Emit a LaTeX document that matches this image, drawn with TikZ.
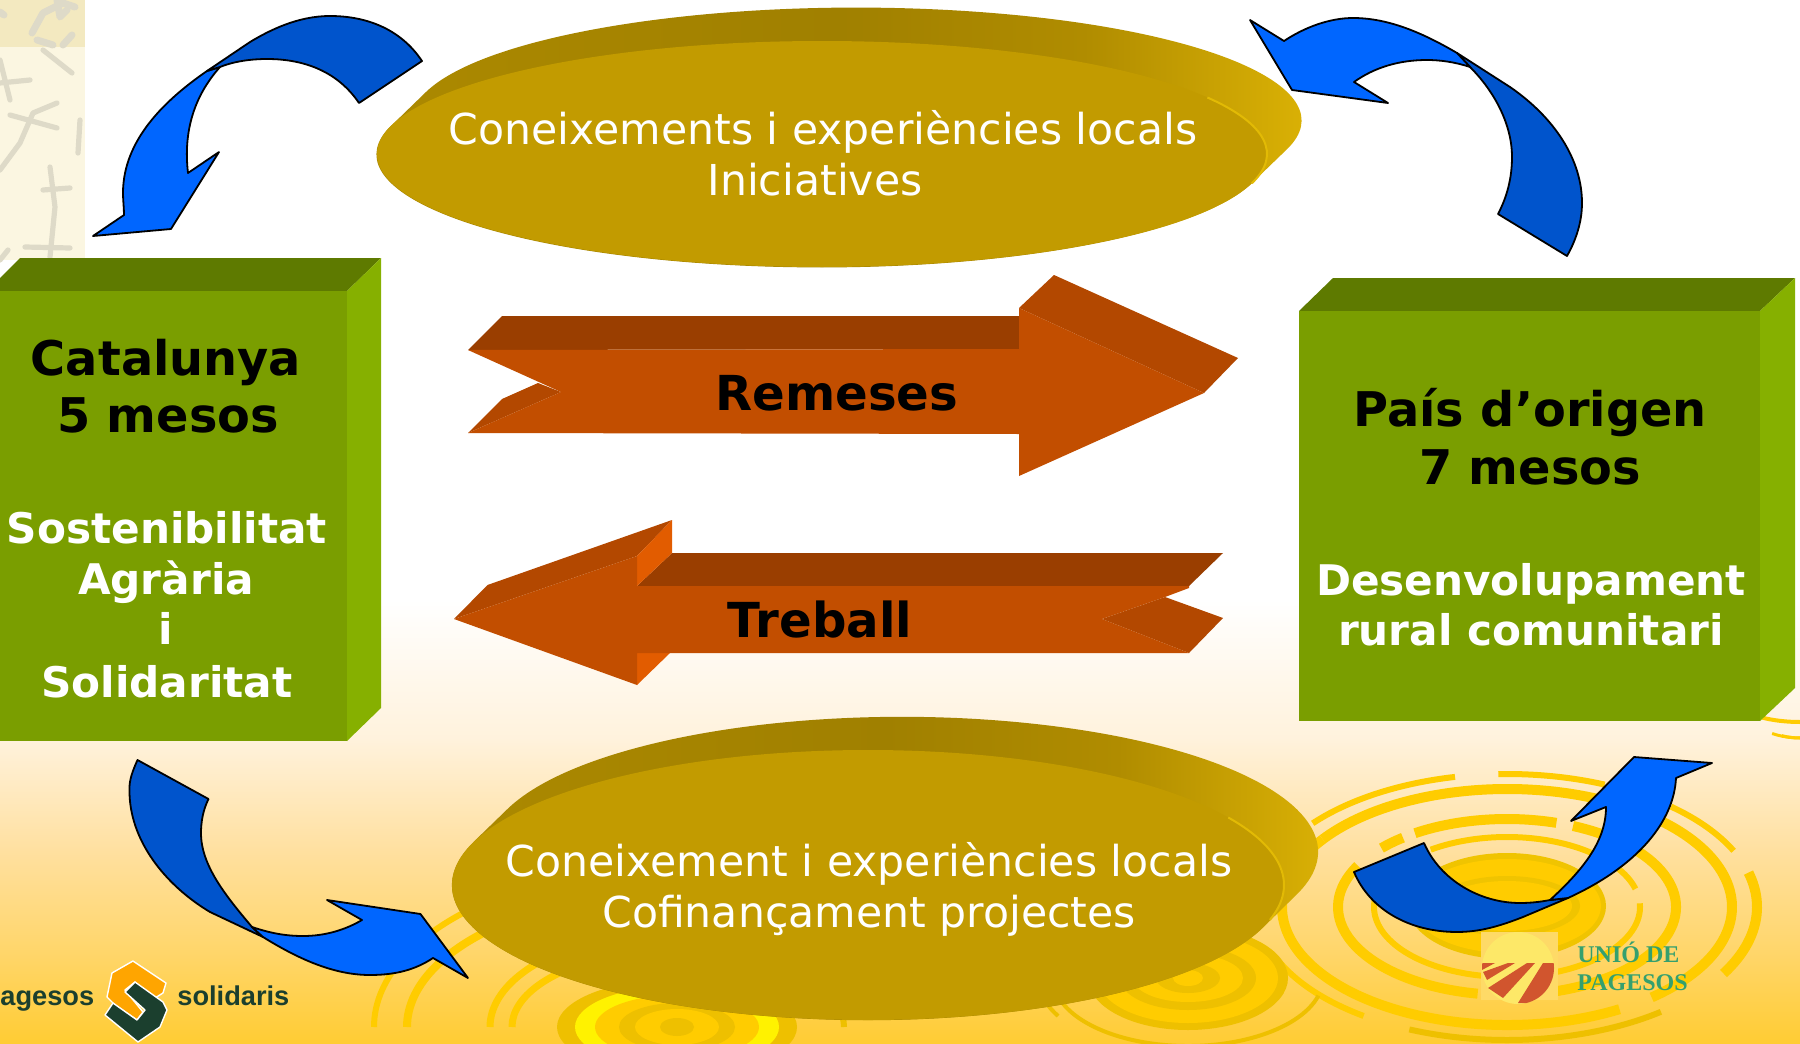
\documentclass[tikz,border=0pt]{standalone}
\usepackage{fontspec}
\setmainfont{DejaVu Sans}
\newfontfamily\unifont{Liberation Serif}
\newfontfamily\logofont{Liberation Sans}
\definecolor{ringc}{RGB}{255,204,0}
\definecolor{ringd}{RGB}{238,192,0}
\definecolor{bandc}{RGB}{240,196,0}
\definecolor{goldf}{RGB}{194,155,0}
\definecolor{goldedge}{RGB}{226,186,5}
\definecolor{goldA}{RGB}{173,138,0}
\definecolor{goldB}{RGB}{160,128,0}
\definecolor{goldC}{RGB}{176,140,0}
\definecolor{goldD}{RGB}{226,184,6}
\definecolor{grnf}{RGB}{122,158,0}
\definecolor{grnt}{RGB}{94,122,0}
\definecolor{grns}{RGB}{134,176,0}
\definecolor{orf}{RGB}{194,78,0}
\definecolor{ort}{RGB}{154,62,0}
\definecolor{ors}{RGB}{179,72,0}
\definecolor{orl}{RGB}{226,92,0}
\definecolor{bluel}{RGB}{0,102,255}
\definecolor{blued}{RGB}{0,84,204}
\definecolor{logodk}{RGB}{27,63,46}
\definecolor{logoor}{RGB}{255,165,0}
\definecolor{unig}{RGB}{53,160,110}
\definecolor{unir}{RGB}{209,85,46}
\definecolor{uniy}{RGB}{253,232,104}
\definecolor{stripA}{RGB}{243,233,192}
\definecolor{stripB}{RGB}{251,246,225}
\definecolor{stripG}{RGB}{222,218,200}
\definecolor{bgA}{RGB}{255,242,220}
\definecolor{bgB}{RGB}{255,224,160}
\definecolor{bgC}{RGB}{255,213,102}
\definecolor{bgD}{RGB}{255,204,51}
\pgfdeclarehorizontalshading{extoshade}{100bp}{color(0bp)=(goldA); color(25bp)=(goldA); color(50bp)=(goldB); color(62bp)=(goldC); color(75bp)=(goldD); color(100bp)=(goldD)}
\newcommand{\rarc}[8][ringc]{\draw[#1,line width=#8*0.5pt] (#2,#3) ++(#6:#4 and #5) arc[start angle=#6,end angle=#7,x radius=#4,y radius=#5];}
\tikzset{
  bluearrow/.style={draw=black,line width=0.9pt,line join=round},
  darkblue/.style={bluearrow,fill=blued},
  lightblue/.style={bluearrow,fill=bluel},
  boxhead/.style={anchor=base,text=black,font=\fontsize{23.9}{26}\selectfont\bfseries,inner sep=0pt},
  boxsub/.style={anchor=base,text=white,font=\fontsize{21.1}{26}\selectfont\bfseries,inner sep=0pt},
  ovaltext/.style={anchor=base,text=white,font=\fontsize{21.3}{24}\selectfont,inner sep=0pt},
  arrowtext/.style={anchor=base,text=black,font=\fontsize{24.1}{26}\selectfont\bfseries,inner sep=0pt},
  unitext/.style={anchor=base west,text=unig,font=\unifont\fontsize{12}{14}\selectfont\bfseries,inner sep=0pt},
  logotext/.style={anchor=base west,text=logodk,font=\logofont\fontsize{13.6}{14}\selectfont\bfseries,inner sep=0pt},
  figstroke/.style={stripG,line width=2.6pt,line join=round,line cap=round}
}
\begin{document}
\begin{tikzpicture}[x=0.5pt,y=0.5pt,yscale=-1]
\useasboundingbox (0,0) rectangle (1800,1044);
\clip (0,0) rectangle (1800,1044);
% background
\fill[white] (0,0) rectangle (1800,1044);
\fill[top color=white,bottom color=bgA] (0,600) rectangle (1800,740);
\fill[top color=bgA,bottom color=bgB] (0,739.5) rectangle (1800,850);
\fill[top color=bgB,bottom color=bgC] (0,849.5) rectangle (1800,960);
\fill[top color=bgC,bottom color=bgD] (0,959.5) rectangle (1800,1044);
% left texture strip
\fill[stripB] (0,47) rectangle (85,260);
\fill[stripA] (0,0) rectangle (85,47);
\draw[figstroke] (0,170) -- (20,143) -- (33,113) -- (57,103);
\draw[figstroke] (10,115) -- (57,128);
\draw[figstroke] (50,167) -- (55,207) -- (50,257);
\draw[figstroke] (43,190) -- (70,188);
\draw[figstroke] (25,247) -- (70,248);
\draw[figstroke] (80,120) -- (78,153);
\draw[figstroke] (0,60) -- (10,100);
\draw[figstroke] (0,83) -- (30,80);
\draw[figstroke] (43,50) -- (72,73);
\draw[figstroke] (0,260) -- (8,250);
\draw[figstroke,line width=3.5pt] (32,33) -- (43,13) -- (63,3) -- (75,7);
\draw[figstroke,line width=3.5pt] (57,0) -- (60,17) -- (67,10);
\draw[figstroke,line width=3.5pt] (37,40) -- (53,45);
\draw[figstroke,line width=3.5pt] (63,45) -- (72,35);
\draw[figstroke,line width=3.5pt] (0,12) -- (4,15);
% rings, big sun right
\fill[bandc] (1507,906) ellipse [x radius=99,y radius=53];
\fill[ringc] (1507,906) ellipse [x radius=94,y radius=47];
\fill[bandc] (1507,906) ellipse [x radius=73,y radius=30];
\fill[ringc] (1507,906) ellipse [x radius=65,y radius=25];
\rarc{1507}{907}{133}{70}{235}{345}{6}
\rarc{1507}{907}{133}{70}{357}{550}{6}
\rarc{1507}{907}{169}{88}{237}{287}{10}
\rarc{1507}{907}{169}{88}{293}{435}{10}
\rarc{1507}{907}{169}{88}{100}{208}{10}
\rarc{1507}{907}{169}{88}{222}{232}{10}
\rarc{1507}{907}{225}{118}{215}{410}{10}
\rarc{1507}{907}{225}{118}{60}{215}{10}
\rarc{1507}{907}{250}{133}{219}{258}{6}
\rarc{1507}{907}{250}{133}{268}{293}{6}
\rarc{1507}{907}{250}{133}{311}{335}{6}
\rarc{1507}{907}{250}{133}{345}{390}{10}
\rarc[ringd]{1507}{907}{250}{133}{52}{113}{6}
\rarc{1507}{907}{250}{133}{125}{155}{6}
% rings, small sun centre
\fill[ringd] (1188,978) ellipse [x radius=100,y radius=52];
\fill[ringc] (1188,978) ellipse [x radius=90,y radius=45];
\fill[ringd] (1188,978) ellipse [x radius=68,y radius=32];
\fill[ringc] (1188,978) ellipse [x radius=55,y radius=24];
\fill[ringd] (1188,978) ellipse [x radius=32,y radius=15];
\fill[ringc] (1188,978) ellipse [x radius=15,y radius=8];
\rarc[ringd]{1188}{978}{135}{68}{15}{165}{4}
\rarc[ringd]{1188}{978}{150}{76}{150}{175}{4}
% rings, sun bottom centre
\rarc{677}{1027}{303}{161}{180}{232}{6}
\rarc{677}{1027}{270}{135}{180}{235}{8}
\rarc{677}{1027}{187}{96}{180}{245}{7}
\rarc{677}{1027}{165}{77}{180}{245}{7}
\rarc[ringd]{677}{1027}{167}{77}{300}{360}{6}
\fill[ringd] (677,1027) ellipse [x radius=120,y radius=48];
\fill[yellow] (677,1027) ellipse [x radius=102,y radius=41];
\fill[ringc] (677,1027) ellipse [x radius=82,y radius=32];
\fill[ringd] (677,1027) ellipse [x radius=58,y radius=24];
\fill[ringc] (677,1027) ellipse [x radius=42,y radius=18];
\fill[ringd] (677,1027) ellipse [x radius=17,y radius=9];
% ring behind right box
\rarc[ringc]{1800}{690}{75}{32}{60}{120}{4}
\rarc[ringc]{1800}{690}{66}{48}{75}{115}{3}
\rarc[ringc]{1800}{670}{70}{68}{70}{105}{3}
% upper oval
\shade[shading=extoshade] (392,125) -- (426,92) arc[start angle=194.66,end angle=374.66,x radius=445,y radius=113] -- (1252,183) arc[start angle=14.66,end angle=194.66,x radius=445,y radius=113] -- cycle;
\fill[goldf] (822,154) ellipse [x radius=445,y radius=113];
\draw[goldedge,line width=1pt] (822,154) ++(330:445 and 113) arc[start angle=330,end angle=375,x radius=445,y radius=113];
% lower oval
\shade[shading=extoshade] (473.5,842) -- (507.5,809) arc[start angle=198.5,end angle=378.5,x radius=416,y radius=135] -- (1262.5,928) arc[start angle=18.5,end angle=198.5,x radius=416,y radius=135] -- cycle;
\fill[goldf] (868,885) ellipse [x radius=416,y radius=135];
\draw[goldedge,line width=1pt] (868,885) ++(330:416 and 135) arc[start angle=330,end angle=375,x radius=416,y radius=135];
% left box
\fill[grnt] (0,278) -- (20,258) -- (381,258) -- (347,291) -- (0,291) -- cycle;
\fill[grnf] (0,291) rectangle (347,741);
\fill[grns] (347,291) -- (381,258) -- (381,708) -- (347,741) -- cycle;
% right box
\fill[grnt] (1299,311) -- (1333,278) -- (1795,278) -- (1760,311) -- cycle;
\fill[grnf] (1299,311) rectangle (1760,721);
\fill[grns] (1760,311) -- (1795,278) -- (1795,688) -- (1760,721) -- cycle;
% Remeses arrow
\fill[ort] (468,350) -- (502,316) -- (1019,316) -- (1019,349) -- cycle;
\fill[ors] (1019,308) -- (1054,275) -- (1238,358) -- (1204,393) -- cycle;
\fill[ors] (468,433) -- (502,399) -- (538,383) -- (561,392) -- cycle;
\fill[orf] (468,350) -- (1019,349) -- (1019,308) -- (1204,393) -- (1019,476) -- (1019,434) -- (468,433) -- (561,392) -- cycle;
% Treball arrow
\fill[ort] (637,586) -- (672,553) -- (1223,553) -- (1189,586) -- cycle;
\fill[ors] (454,619) -- (487.5,585) -- (672,520) -- (637,556) -- cycle;
\fill[orl] (637,556) -- (672,520) -- (672,553) -- (637,586) -- cycle;
\fill[orl] (637,653) -- (670,653) -- (637,685) -- cycle;
\fill[ors] (1165,597) -- (1223,618) -- (1189,653) -- (1102,619) -- cycle;
\fill[orf] (454,619) -- (637,556) -- (637,586) -- (1189,586) -- (1189,588) -- (1165,597) -- (1102,619) -- (1189,653) -- (637,653) -- (637,685) -- cycle;
% blue arrow top left
\draw[lightblue] (207,71) .. controls (165,100) and (123,140) .. (123,193) .. controls (123,200) and (124,208) .. (124,215) -- (93,236) -- (171,229) -- (219,152) -- (188,173) .. controls (183,130) and (195,95) .. (220,67) -- cycle;
\draw[darkblue] (422,61) .. controls (400,28) and (365,16) .. (330,16) .. controls (298,16) and (270,30) .. (250,42) -- (207,71) -- (220,67) .. controls (235,61) and (252,59) .. (267,59) .. controls (305,59) and (338,72) .. (359,103) -- cycle;
% blue arrow top right
\draw[darkblue] (1457,53) -- (1510,87) .. controls (1555,118) and (1582,160) .. (1582,203) .. controls (1582,222) and (1576,240) .. (1567,256) -- (1498,214) .. controls (1507,197) and (1512,178) .. (1512,157) .. controls (1512,125) and (1495,92) .. (1470,67) -- cycle;
\draw[lightblue] (1250,20) -- (1284,41) .. controls (1305,27) and (1330,18) .. (1353,18) .. controls (1385,18) and (1418,30) .. (1457,53) -- (1470,67) .. controls (1455,62) and (1440,60) .. (1427,60) .. controls (1400,60) and (1375,67) .. (1354,82) -- (1388,103) -- (1292,90) -- cycle;
% blue arrow bottom left
\draw[darkblue] (137.5,760) -- (208.5,799) .. controls (203,810) and (201,822) .. (201,833) .. controls (201,865) and (225,895) .. (252,927) -- (263,937) -- (210,912) .. controls (165,885) and (129,840) .. (129.5,790) .. controls (129,780) and (133,770) .. (137.5,760) -- cycle;
\draw[lightblue] (252,927) .. controls (270,933) and (285,936) .. (303,936) .. controls (325,936) and (345,930) .. (362,920) -- (327,900) -- (420.5,914) -- (468,978) -- (433,958) .. controls (415,970) and (395,975) .. (370,975) .. controls (335,975) and (300,960) .. (263,937) -- cycle;
% blue arrow bottom right
\draw[darkblue] (1354,872) -- (1424,843) .. controls (1440,880) and (1480,903) .. (1520,903) .. controls (1530,903) and (1540,902) .. (1550,900) -- (1568,898) -- (1523,917) .. controls (1500,926) and (1480,932) .. (1457,932) .. controls (1410,932) and (1370,910) .. (1354,872) -- cycle;
\draw[lightblue] (1550,900) .. controls (1585,868) and (1606,840) .. (1606,807) -- (1571,821) -- (1634,757) -- (1712,763) -- (1676,778) .. controls (1674,820) and (1640,865) .. (1568,898) -- cycle;
% logo left
\draw[white,line width=0.7pt,fill=logoor,line join=round] (133,961) -- (166,983) -- (163,993) -- (147,1003) -- (135,982) -- (125,990) -- (143,1012) -- (137,1020) -- (115,1005) -- (107,997) -- (112,973) -- cycle;
\draw[white,line width=0.7pt,fill=logodk,line join=round] (135,982) -- (163,1002) -- (167,1010) -- (160,1027) -- (138,1042) -- (105,1015) -- (113,1003) -- (137,1020) -- (145,1010) -- (125,992) -- cycle;
% logo right
\fill[uniy!25!bgC] (1481,932) rectangle (1558,1000);
\begin{scope}
\clip (1518,968) circle [radius=36];
\fill[uniy] (1480,930) rectangle (1556,1006);
\fill[unir] (1482,963) -- (1495,963) -- (1482,970) -- cycle;
\fill[unir] (1483,972) -- (1508,963) -- (1515,963) -- (1487,980) -- cycle;
\fill[unir] (1488,988) -- (1527,963) -- (1535,963) -- (1503,998) -- cycle;
\fill[unir] (1518,1003) -- (1543,963) -- (1557,963) -- (1557,1003) -- cycle;
\end{scope}
% texts
\node[logotext] (agesos) at (0,1005) {agesos};
\node[logotext] (solidaris) at (177,1005) {solidaris};
\node[unitext] (uni1) at (1577,962) {UNIÓ DE};
\node[unitext] (uni2) at (1577,990) {PAGESOS};
\node[ovaltext] (o1a) at (823,144) {Coneixements i experiències locals};
\node[ovaltext] (o1b) at (815,195) {Iniciatives};
\node[ovaltext] (o2a) at (869,876) {Coneixement i experiències locals};
\node[ovaltext] (o2b) at (869,927) {Cofinançament projectes};
\node[boxhead] (l1) at (166,375) {Catalunya};
\node[boxhead] (l2) at (168,432) {5 mesos};
\node[boxsub] (l3) at (167,543) {Sostenibilitat};
\node[boxsub] (l4) at (166,594) {Agrària};
\node[boxsub] (l5) at (166,644) {i};
\node[boxsub] (l6) at (167,697) {Solidaritat};
\node[boxhead] (r1) at (1530,426) {País d’origen};
\node[boxhead] (r2) at (1530,484) {7 mesos};
\node[boxsub] (r3) at (1531,595) {Desenvolupament};
\node[boxsub] (r4) at (1531,645) {rural comunitari};
\node[arrowtext] (rem) at (837,410) {Remeses};
\node[arrowtext] (tre) at (820,637) {Treball};
\end{tikzpicture}
\end{document}
